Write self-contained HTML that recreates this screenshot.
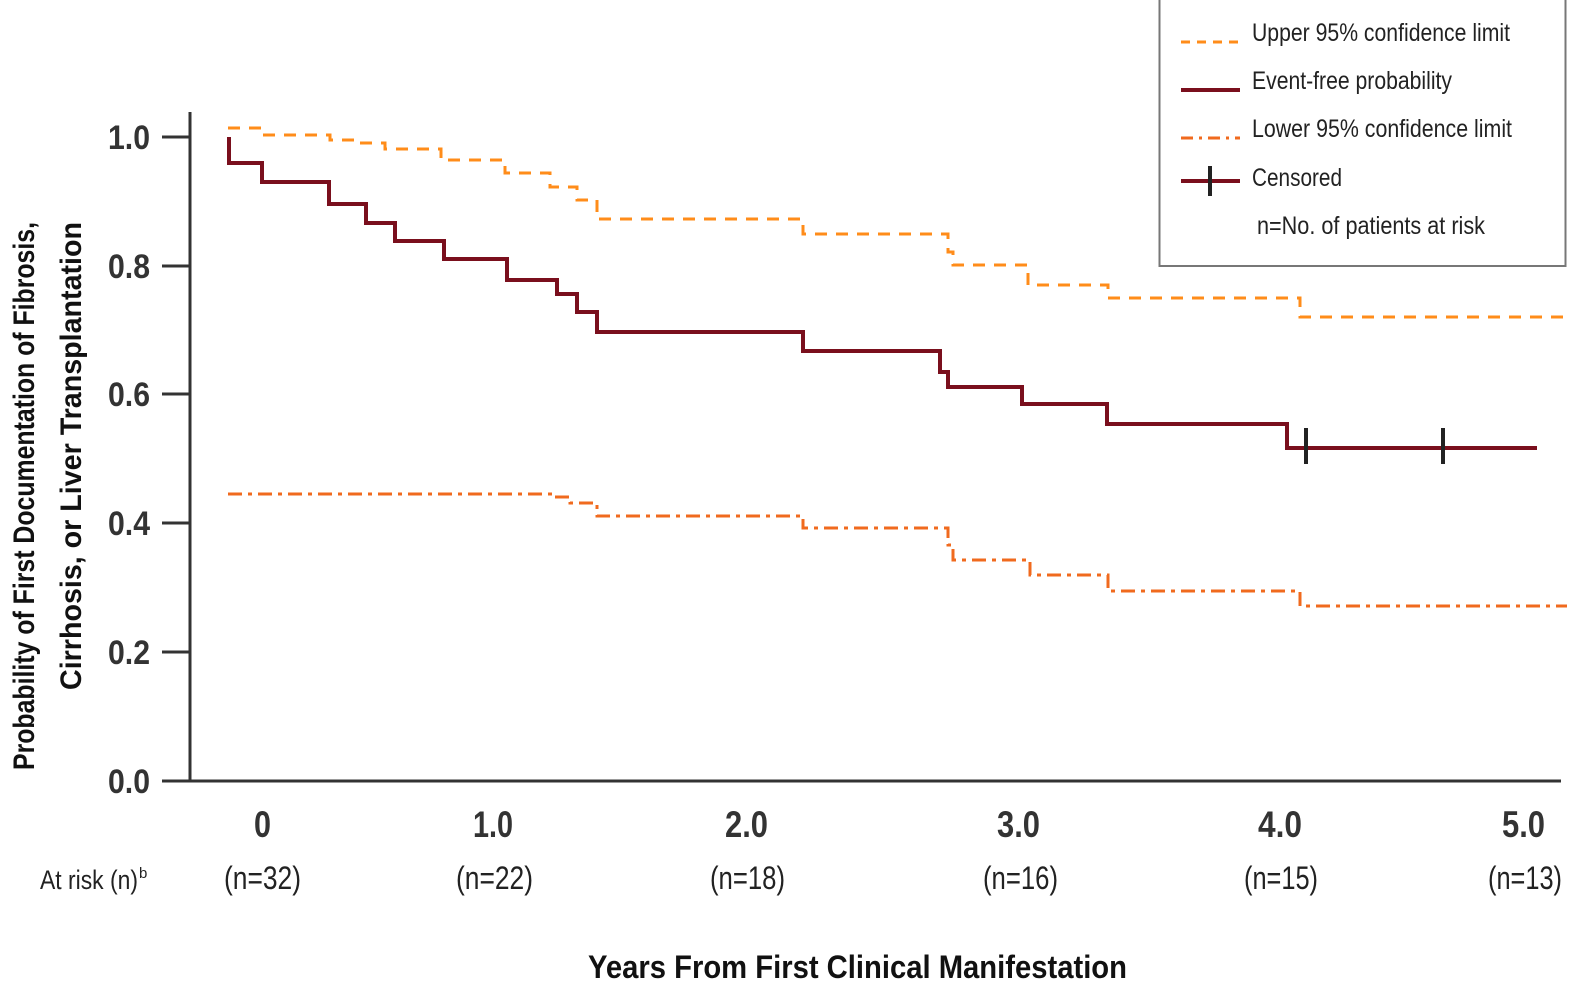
<!DOCTYPE html>
<html><head><meta charset="utf-8"><style>
body{margin:0;background:#fff}
svg text{font-family:"Liberation Sans Narrow","Liberation Sans",sans-serif}
</style></head><body>
<svg width="1588" height="999" viewBox="0 0 1588 999" xmlns="http://www.w3.org/2000/svg">
<rect width="1588" height="999" fill="#fff"/>
<g stroke="#333" stroke-width="3" fill="none">
<line x1="190" y1="112" x2="190" y2="782"/>
<line x1="162" y1="781" x2="1561" y2="781"/>
<line x1="162" y1="137" x2="190" y2="137"/>
<line x1="162" y1="266" x2="190" y2="266"/>
<line x1="162" y1="394" x2="190" y2="394"/>
<line x1="162" y1="523" x2="190" y2="523"/>
<line x1="162" y1="652" x2="190" y2="652"/>
</g>
<g font-size="34" font-weight="bold" fill="#333" lengthAdjust="spacingAndGlyphs">
<text x="108" y="149" textLength="42" lengthAdjust="spacingAndGlyphs">1.0</text>
<text x="108" y="278" textLength="42" lengthAdjust="spacingAndGlyphs">0.8</text>
<text x="108" y="406" textLength="42" lengthAdjust="spacingAndGlyphs">0.6</text>
<text x="108" y="535" textLength="42" lengthAdjust="spacingAndGlyphs">0.4</text>
<text x="108" y="664" textLength="42" lengthAdjust="spacingAndGlyphs">0.2</text>
<text x="108" y="793" textLength="42" lengthAdjust="spacingAndGlyphs">0.0</text>
</g>
<g font-size="37" font-weight="bold" fill="#333">
<text x="254" y="837" textLength="17" lengthAdjust="spacingAndGlyphs">0</text>
<text x="473" y="837" textLength="40" lengthAdjust="spacingAndGlyphs">1.0</text>
<text x="725" y="837" textLength="43" lengthAdjust="spacingAndGlyphs">2.0</text>
<text x="997" y="837" textLength="43" lengthAdjust="spacingAndGlyphs">3.0</text>
<text x="1258" y="837" textLength="44" lengthAdjust="spacingAndGlyphs">4.0</text>
<text x="1502" y="837" textLength="43" lengthAdjust="spacingAndGlyphs">5.0</text>
</g>
<g font-size="32" fill="#222">
<text x="224" y="889" textLength="77" lengthAdjust="spacingAndGlyphs">(n=32)</text>
<text x="456" y="889" textLength="77" lengthAdjust="spacingAndGlyphs">(n=22)</text>
<text x="710" y="889" textLength="75" lengthAdjust="spacingAndGlyphs">(n=18)</text>
<text x="983" y="889" textLength="75" lengthAdjust="spacingAndGlyphs">(n=16)</text>
<text x="1244" y="889" textLength="74" lengthAdjust="spacingAndGlyphs">(n=15)</text>
<text x="1488" y="889" textLength="74" lengthAdjust="spacingAndGlyphs">(n=13)</text>
</g>
<text x="40" y="889" font-size="27" fill="#222" textLength="98" lengthAdjust="spacingAndGlyphs">At risk (n)</text>
<text x="139" y="878" font-size="15" fill="#222">b</text>
<text x="588" y="978" font-size="32" font-weight="bold" fill="#111" textLength="539" lengthAdjust="spacingAndGlyphs">Years From First Clinical Manifestation</text>
<g transform="translate(34,770) rotate(-90)"><text x="0" y="0" font-size="30" font-weight="bold" fill="#111" textLength="548" lengthAdjust="spacingAndGlyphs">Probability of First Documentation of Fibrosis,</text></g>
<g transform="translate(81,690) rotate(-90)"><text x="0" y="0" font-size="30" font-weight="bold" fill="#111" textLength="468" lengthAdjust="spacingAndGlyphs">Cirrhosis, or Liver Transplantation</text></g>
<polyline fill="none" stroke="#ff8c1a" stroke-width="3" stroke-dasharray="12,9"
points="228,128 262,128 262,135 330,135 330,140 360,140 360,143 385,143 385,149 441,149 441,160 505,160 505,173 550,173 550,187 577,187 577,200 597,200 597,219 803,219 803,234 948,234 948,252 953,252 953,265 1028,265 1028,285 1108,285 1108,298 1300,298 1300,317 1567,317"/>
<polyline fill="none" stroke="#f06a1e" stroke-width="3" stroke-dasharray="14,6,4,6"
points="228,494 555,494 555,497 570,497 570,503 597,503 597,516 803,516 803,528 948,528 948,545 953,545 953,560 1030,560 1030,575 1108,575 1108,591 1300,591 1300,606 1567,606"/>
<polyline fill="none" stroke="#7a0f1d" stroke-width="4"
points="229,137 229,163 262,163 262,182 329,182 329,204 366,204 366,223 395,223 395,241 444,241 444,259 507,259 507,280 557,280 557,294 577,294 577,312 597,312 597,332 803,332 803,351 940,351 940,372 948,372 948,387 1022,387 1022,404 1107,404 1107,424 1287,424 1287,448 1537,448"/>
<g stroke="#222" stroke-width="4"><line x1="1306" y1="428" x2="1306" y2="464"/><line x1="1443" y1="428" x2="1443" y2="464"/></g>
<rect x="1159.5" y="-2" width="406" height="268" fill="#fff" stroke="#777" stroke-width="2"/>
<line x1="1181" y1="42" x2="1240" y2="42" stroke="#ff8c1a" stroke-width="3" stroke-dasharray="9,7"/>
<line x1="1181" y1="90" x2="1240" y2="90" stroke="#7a0f1d" stroke-width="4"/>
<line x1="1181" y1="138" x2="1240" y2="138" stroke="#f06a1e" stroke-width="3" stroke-dasharray="12,6,3,6"/>
<line x1="1181" y1="181" x2="1240" y2="181" stroke="#7a0f1d" stroke-width="4"/>
<line x1="1210" y1="166" x2="1210" y2="196" stroke="#222" stroke-width="4"/>
<g font-size="25" fill="#222">
<text x="1252" y="41" textLength="258" lengthAdjust="spacingAndGlyphs">Upper 95% confidence limit</text>
<text x="1252" y="89" textLength="200" lengthAdjust="spacingAndGlyphs">Event-free probability</text>
<text x="1252" y="137" textLength="260" lengthAdjust="spacingAndGlyphs">Lower 95% confidence limit</text>
<text x="1252" y="186" textLength="90" lengthAdjust="spacingAndGlyphs">Censored</text>
<text x="1257" y="234" textLength="228" lengthAdjust="spacingAndGlyphs">n=No. of patients at risk</text>
</g>
</svg>
</body></html>
